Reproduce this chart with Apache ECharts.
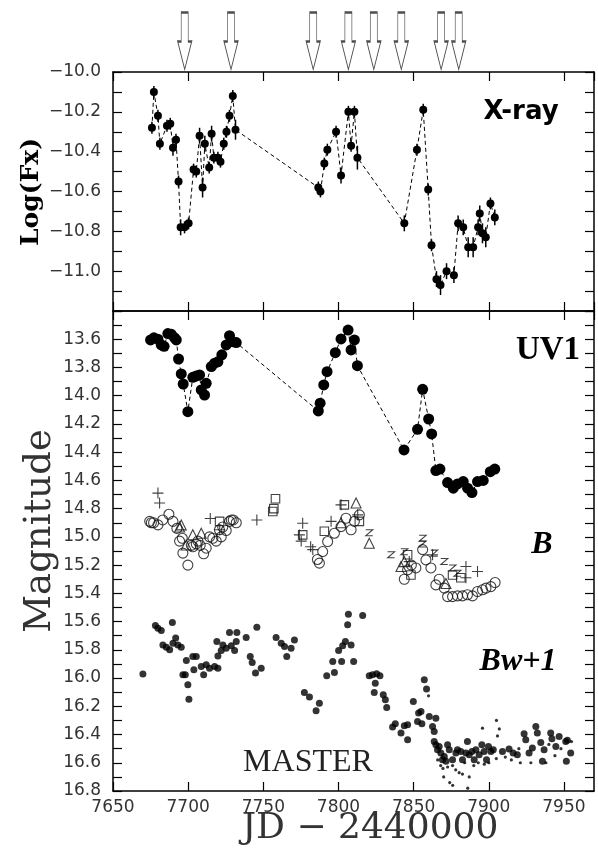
<!DOCTYPE html>
<html>
<head>
<meta charset="utf-8">
<script src="https://cdn.jsdelivr.net/npm/echarts@6/dist/echarts.min.js"></script>
<style>
html, body { margin: 0; padding: 0; background: #fff; }
#main { width: 598px; height: 848px; }
</style>
</head>
<body>
<div id="main"></div>
<script>
// JD of the arrows over the top panel
var arrowJD = [7697.7, 7728.5, 7783.2, 7806.6, 7823.5, 7841.8, 7868.3, 7880];

// X-ray: log flux with error bars
var xrayJD = [7675.9, 7677.2, 7679.9, 7681.2, 7685.9, 7688.1, 7689.9, 7691.9, 7693.6, 7695.0, 7697.6, 7700.3,
    7703.6, 7705.4, 7707.6, 7709.6, 7711.1, 7714.0, 7715.6, 7717.1, 7719.8, 7721.5, 7723.7, 7725.5, 7727.5,
    7729.7, 7731.5, 7786.6, 7788.0, 7790.6, 7792.6, 7798.4, 7801.7, 7806.6, 7808.4, 7810.6, 7812.6, 7843.8,
    7852.2, 7856.4, 7859.7, 7861.9, 7865.2, 7867.9, 7871.9, 7876.8, 7879.6, 7883.0, 7886.3, 7889.6, 7892.9,
    7894.0, 7895.8, 7898.0, 7901.1, 7904.0];
var xrayFlux = [-10.28, -10.10, -10.22, -10.36, -10.27, -10.26, -10.38, -10.34, -10.55, -10.78, -10.78, -10.76,
    -10.49, -10.50, -10.32, -10.58, -10.36, -10.48, -10.31, -10.43, -10.43, -10.45, -10.36, -10.30, -10.22,
    -10.12, -10.29, -10.58, -10.60, -10.46, -10.39, -10.30, -10.52, -10.20, -10.37, -10.20, -10.43, -10.76,
    -10.39, -10.19, -10.59, -10.87, -11.04, -11.07, -11.00, -11.02, -10.76, -10.78, -10.88, -10.88, -10.78,
    -10.71, -10.81, -10.83, -10.66, -10.73];
var xrayErr = [0.03, 0.03, 0.03, 0.03, 0.03, 0.03, 0.04, 0.03, 0.03, 0.04, 0.03, 0.03,
    0.03, 0.03, 0.04, 0.05, 0.04, 0.03, 0.04, 0.03, 0.03, 0.03, 0.03, 0.03, 0.03,
    0.03, 0.05, 0.03, 0.03, 0.03, 0.03, 0.03, 0.04, 0.03, 0.03, 0.03, 0.06, 0.04,
    0.03, 0.03, 0.03, 0.03, 0.04, 0.05, 0.04, 0.04, 0.04, 0.04, 0.05, 0.05, 0.04,
    0.04, 0.05, 0.05, 0.03, 0.04];

// UV1 magnitudes
var uvJD = [7675.0, 7677.2, 7679.9, 7682.1, 7684.0, 7686.5, 7688.8, 7691.0, 7692.1, 7693.6, 7695.4, 7696.7,
    7699.8, 7703.1, 7705.4, 7707.6, 7708.7, 7710.9, 7712.0, 7715.4, 7717.6, 7719.8, 7722.4, 7725.3, 7727.5,
    7729.7, 7732.0, 7786.6, 7787.8, 7790.2, 7792.4, 7797.9, 7801.7, 7806.4, 7808.4, 7810.6, 7812.6, 7843.6,
    7852.6, 7856.0, 7860.0, 7862.0, 7864.8, 7867.5, 7872.6, 7876.4, 7879.2, 7883.0, 7885.9, 7888.8, 7892.5,
    7896.3, 7901.0, 7904.0];
var uvMag = [13.605, 13.59, 13.60, 13.64, 13.65, 13.56, 13.565, 13.59, 13.605, 13.74, 13.846, 13.917,
    14.113, 13.87, 13.86, 13.853, 13.959, 13.995, 13.912, 13.794, 13.77, 13.76, 13.71, 13.64, 13.575,
    13.617, 13.624, 14.108, 14.053, 13.924, 13.83, 13.695, 13.598, 13.535, 13.676, 13.605, 13.787, 14.384,
    14.238, 13.955, 14.165, 14.271, 14.53, 14.52, 14.615, 14.655, 14.625, 14.608, 14.655, 14.686, 14.608,
    14.60, 14.538, 14.52];

// B band, one list per symbol
var bCircle = [[7674.4, 14.89], [7675.5, 14.90], [7677, 14.90], [7679.9, 14.915], [7683.1, 14.88], [7687.2, 14.84],
    [7689.9, 14.89], [7692.5, 14.94], [7694.3, 15.03], [7696.1, 15.01], [7696.5, 15.115], [7699.8, 15.20],
    [7702.1, 15.06], [7703.1, 15.07], [7705.4, 15.05], [7706.5, 15.03], [7708, 15.06], [7710.3, 15.12],
    [7712, 15.08], [7714.2, 15.0], [7716.4, 15.01], [7718.7, 15.03], [7720.8, 14.95], [7722, 15.0],
    [7723, 14.93], [7725.3, 14.955], [7727.5, 14.89], [7728.7, 14.88], [7730, 14.88], [7732, 14.90],
    [7786, 15.16], [7787.3, 15.186], [7789.5, 15.104], [7792.8, 15.033], [7797.3, 14.974], [7801.7, 14.927],
    [7805, 14.868], [7808.4, 14.95], [7810.6, 14.89], [7813.9, 14.844],
    [7843.8, 15.30], [7846, 15.234], [7848.5, 15.20], [7851.5, 15.22], [7856, 15.09], [7858.2, 15.163],
    [7861.5, 15.22], [7864.8, 15.34], [7867, 15.30], [7870.4, 15.363], [7872.6, 15.423], [7875.9, 15.423],
    [7879.2, 15.418], [7882.5, 15.418], [7885.8, 15.41], [7889.2, 15.418], [7892.5, 15.387], [7895.8, 15.375],
    [7898.1, 15.363], [7901.4, 15.352], [7904.2, 15.323]];
var bPlus = [[7679.9, 14.69], [7681, 14.76], [7714.7, 14.87], [7721, 14.95], [7745.7, 14.88], [7774, 14.986],
    [7775.2, 15.03], [7776.2, 14.903], [7781.5, 15.07], [7782.9, 15.09], [7795.1, 14.89], [7801.7, 14.773],
    [7812.8, 14.844], [7847.1, 15.175], [7862.6, 15.127], [7884.8, 15.21], [7892.5, 15.245], [7884.8, 15.29]];
var bSquare = [[7720.9, 14.89], [7756.3, 14.82], [7757, 14.80], [7758.1, 14.73], [7776.2, 14.986], [7790.6, 14.96],
    [7803.9, 14.773], [7813.9, 14.89], [7846, 15.127], [7848.2, 15.27], [7875.9, 15.27], [7881.4, 15.29]];
var bTriangle = [[7694.3, 14.93], [7695.4, 14.915], [7698.7, 15.057], [7703.1, 14.985], [7708.7, 14.974],
    [7801.7, 14.90], [7811.7, 14.76], [7820.5, 15.045], [7841.6, 15.21], [7843.8, 15.175], [7871.5, 15.33]];
var bZ = [[7820.5, 14.97], [7835, 15.127], [7843.8, 15.105], [7856, 15.01], [7856, 15.05], [7863.7, 15.115],
    [7870.4, 15.175], [7875.9, 15.22], [7879.2, 15.257]];

// MASTER Bw+1, large and small dots
var bwBig = [[7669.9, 15.972], [7678.2, 15.628], [7679.9, 15.647], [7682.1, 15.663], [7683.2, 15.765], [7685.5, 15.781],
    [7687.7, 15.80], [7689.5, 15.607], [7689.9, 15.753], [7691.7, 15.717], [7693.2, 15.765], [7695.4, 15.781],
    [7696.5, 15.977], [7698.1, 15.977], [7698.8, 15.876], [7699.8, 16.048], [7700.5, 16.15], [7703.1, 15.847],
    [7705.4, 15.847], [7703.8, 15.942], [7708.7, 15.918], [7710.3, 15.977], [7712, 15.906], [7714.2, 15.93],
    [7717.6, 15.918], [7719.8, 15.93], [7719.1, 15.741], [7719.8, 15.843], [7722, 15.805], [7723.1, 15.765],
    [7725.3, 15.788], [7727.5, 15.678], [7728.7, 15.772], [7730.9, 15.805], [7732.4, 15.678], [7732, 15.741],
    [7738.6, 15.713], [7741.3, 15.847], [7742.6, 15.89], [7744.8, 15.965], [7745.7, 15.64], [7748.6, 15.93],
    [7758.5, 15.713], [7761.9, 15.753], [7764.1, 15.776], [7765.6, 15.847], [7768.5, 15.788], [7770.7, 15.73],
    [7777.3, 16.102], [7780.7, 16.135], [7787.3, 16.178], [7785.1, 16.232], [7792.2, 15.984], [7797.3, 15.961],
    [7796.2, 15.883], [7802.1, 15.883], [7800.1, 15.805], [7802.8, 15.772], [7804.6, 15.741], [7808.4, 15.765],
    [7806.1, 15.623], [7806.6, 15.548], [7816.1, 15.557], [7810.1, 15.883], [7820.5, 15.984], [7822.7, 15.977],
    [7825.4, 15.97], [7827.6, 15.984], [7824.5, 16.036], [7823.8, 16.102], [7829.8, 16.119], [7831.2, 16.154],
    [7832.1, 16.208], [7836, 16.347], [7837.8, 16.324], [7841.6, 16.39], [7843.8, 16.338], [7846, 16.331],
    [7846, 16.437], [7849.8, 16.166], [7853.3, 16.248], [7854.9, 16.237], [7852.6, 16.308], [7855.5, 16.324],
    [7857.1, 16.012], [7858.6, 16.078], [7860.4, 16.272], [7862.6, 16.343], [7863.7, 16.378], [7864.8, 16.284],
    [7863.7, 16.449], [7864.8, 16.473], [7865.9, 16.508], [7867, 16.485], [7868.1, 16.531], [7869.2, 16.579],
    [7870.4, 16.555], [7871.5, 16.59], [7872.6, 16.473], [7873.7, 16.508], [7875.9, 16.579], [7878.1, 16.531],
    [7879.2, 16.508], [7881.4, 16.52], [7882.5, 16.579], [7884.8, 16.531], [7885.8, 16.449], [7887, 16.543],
    [7888.8, 16.52], [7890.3, 16.579], [7891.4, 16.508], [7893.6, 16.543], [7895.4, 16.473], [7896.9, 16.52],
    [7898.5, 16.579], [7899.8, 16.485], [7901.4, 16.52], [7903, 16.508], [7909.1, 16.52], [7913.5, 16.503],
    [7916.2, 16.531], [7919, 16.543], [7923.5, 16.395], [7924.6, 16.437], [7926.8, 16.531], [7929, 16.496],
    [7931.3, 16.343], [7932.3, 16.39], [7934.6, 16.457], [7935.7, 16.59], [7936.8, 16.508], [7941.2, 16.39],
    [7942, 16.43], [7944.6, 16.485], [7946.8, 16.414], [7951.2, 16.449], [7951.6, 16.59], [7952.3, 16.44],
    [7954.5, 16.531]];
var bwSmall = [[7859.9, 16.126], [7895.8, 16.355], [7905.1, 16.30], [7907, 16.36], [7905.8, 16.41], [7868, 16.62],
    [7869.5, 16.64], [7872.6, 16.63], [7875.9, 16.62], [7878, 16.65], [7880.3, 16.67], [7882.5, 16.68],
    [7887, 16.70], [7884, 16.60], [7890, 16.62], [7893, 16.60], [7897, 16.61], [7866, 16.58], [7870, 16.70],
    [7874, 16.74], [7876, 16.76], [7886, 16.78], [7911, 16.56], [7915, 16.58], [7921, 16.60], [7928, 16.60],
    [7938, 16.60], [7944, 16.55], [7948, 16.50], [7955, 16.45], [7940, 16.47], [7920, 16.50], [7900, 16.60],
    [7905, 16.57]];

var jdMin = 7650, jdMax = 7970, jdStep = 50;

function pairs(xs, ys) {
    var out = [];
    for (var i = 0; i < xs.length; i++) out.push([xs[i], ys[i]]);
    return out;
}

var labelFont = { color: '#333', fontFamily: 'DejaVu Sans', fontSize: 17 };
var black = '#000';

function xAx(grid, pos, labels) {
    return {
        type: 'value', gridIndex: grid, position: pos, min: jdMin, max: jdMax, interval: jdStep,
        axisLine: { show: true, onZero: false, lineStyle: { color: black, width: 1.5 } },
        axisTick: { show: true, inside: true, length: 9, lineStyle: { color: black, width: 1.2 } },
        axisLabel: Object.assign({
            show: labels, margin: 8, showMaxLabel: false,
            formatter: function (v) { return String(v); }
        }, labelFont),
        splitLine: { show: false }
    };
}

function yAx(grid, pos, min, max, inverse, labels) {
    return {
        type: 'value', gridIndex: grid, position: pos, min: min, max: max, interval: 0.2, inverse: inverse,
        axisLine: { show: true, onZero: false, lineStyle: { color: black, width: 1.5 } },
        axisTick: { show: true, inside: true, length: 9, lineStyle: { color: black, width: 1.2 } },
        minorTick: { show: true, splitNumber: 2, length: 9, lineStyle: { color: black, width: 1.2 } },
        axisLabel: Object.assign({
            show: labels, margin: 12, showMinLabel: false, showMaxLabel: true,
            formatter: function (v) { return v.toFixed(1).replace('-', '\u2212'); }
        }, labelFont),
        splitLine: { show: false }
    };
}

var arrowPath = 'path://M3.5,0 L10.5,0 L10.5,29 L14,29 L7,57 L0,29 L3.5,29 Z';
var plusPath = 'path://M5,0 L5,10 M0,5 L10,5';
var zPath = 'path://M0,0 L10,0 L0,10 L10,10';
var openStyle = { color: 'transparent', borderColor: '#111', borderWidth: 1.1 };

var myChart = echarts.init(document.getElementById('main'), null, { renderer: 'canvas' });

var option = {
    animation: false,
    backgroundColor: '#fff',
    grid: [
        { left: 113, right: 4, top: 72, height: 239, outerBoundsMode: 'none' },
        { left: 113, right: 4, top: 311, height: 480, outerBoundsMode: 'none' },
        { left: 113, right: 4, top: 12, height: 58, outerBoundsMode: 'none' }
    ],
    xAxis: [
        xAx(0, 'bottom', false),
        xAx(0, 'top', false),
        xAx(1, 'bottom', true),
        xAx(1, 'top', false),
        { type: 'value', gridIndex: 2, min: jdMin, max: jdMax, show: false }
    ],
    yAxis: [
        yAx(0, 'left', -11.2, -10, false, true),
        yAx(0, 'right', -11.2, -10, false, false),
        yAx(1, 'left', 13.4, 16.8, true, true),
        yAx(1, 'right', 13.4, 16.8, true, false),
        { type: 'value', gridIndex: 2, min: 0, max: 1, show: false }
    ],
    graphic: [
        { type: 'text', x: 521, y: 112, style: { text: 'X-ray', font: 'bold 26px "DejaVu Sans"', fill: black, textAlign: 'center', textVerticalAlign: 'middle' } },
        { type: 'text', x: 548, y: 350, style: { text: 'UV1', font: 'bold 33px "Liberation Serif"', fill: black, textAlign: 'center', textVerticalAlign: 'middle' } },
        { type: 'text', x: 542, y: 545, style: { text: 'B', font: 'italic bold 32px "Liberation Serif"', fill: black, textAlign: 'center', textVerticalAlign: 'middle' } },
        { type: 'text', x: 518, y: 662, style: { text: 'Bw+1', font: 'italic bold 32px "Liberation Serif"', fill: black, textAlign: 'center', textVerticalAlign: 'middle' } },
        { type: 'text', x: 308, y: 763, style: { text: 'MASTER', font: '32px "Liberation Serif"', fill: '#222', textAlign: 'center', textVerticalAlign: 'middle' } },
        { type: 'text', x: 31, y: 192, rotation: Math.PI / 2, style: { text: 'Log(Fx)', font: 'bold 25px "DejaVu Serif"', fill: black, textAlign: 'center', textVerticalAlign: 'middle' } },
        { type: 'text', x: 40, y: 531, rotation: Math.PI / 2, style: { text: 'Magnitude', font: '37px "DejaVu Serif"', fill: '#333', textAlign: 'center', textVerticalAlign: 'middle' } },
        { type: 'text', x: 370, y: 829, style: { text: 'JD \u2212 2440000', font: '36px "DejaVu Serif"', fill: '#333', textAlign: 'center', textVerticalAlign: 'middle' } }
    ],
    series: [
        {
            name: 'arrows', type: 'scatter', xAxisIndex: 4, yAxisIndex: 4,
            data: arrowJD.map(function (d) { return [d, 0.5]; }),
            symbol: arrowPath, symbolSize: [14, 57],
            itemStyle: { color: '#fff', borderColor: '#222', borderWidth: 1.3 }
        },
        {
            name: 'xray err', type: 'custom', xAxisIndex: 0, yAxisIndex: 0,
            data: xrayJD.map(function (d, i) { return [d, xrayFlux[i], xrayErr[i]]; }),
            renderItem: function (params, api) {
                var p1 = api.coord([api.value(0), api.value(1) + api.value(2)]);
                var p2 = api.coord([api.value(0), api.value(1) - api.value(2)]);
                return { type: 'line', shape: { x1: p1[0], y1: p1[1], x2: p2[0], y2: p2[1] }, style: { stroke: black, lineWidth: 1.5 } };
            },
            z: 1
        },
        {
            name: 'X-ray', type: 'line', xAxisIndex: 0, yAxisIndex: 0,
            data: pairs(xrayJD, xrayFlux),
            symbol: 'circle', symbolSize: 8, showSymbol: true,
            itemStyle: { color: black },
            lineStyle: { color: black, width: 1, type: [4, 3] },
            z: 3
        },
        {
            name: 'UV1', type: 'line', xAxisIndex: 2, yAxisIndex: 2,
            data: pairs(uvJD, uvMag),
            symbol: 'circle', symbolSize: 11, showSymbol: true,
            itemStyle: { color: black },
            lineStyle: { color: black, width: 1, type: [4, 3] }
        },
        { name: 'B o', type: 'scatter', xAxisIndex: 2, yAxisIndex: 2, data: bCircle, symbol: 'circle', symbolSize: 10, itemStyle: openStyle },
        { name: 'B +', type: 'scatter', xAxisIndex: 2, yAxisIndex: 2, data: bPlus, symbol: plusPath, symbolSize: 11, itemStyle: openStyle },
        { name: 'B sq', type: 'scatter', xAxisIndex: 2, yAxisIndex: 2, data: bSquare, symbol: 'rect', symbolSize: 8.5, itemStyle: openStyle },
        { name: 'B tri', type: 'scatter', xAxisIndex: 2, yAxisIndex: 2, data: bTriangle, symbol: 'triangle', symbolSize: 10, itemStyle: openStyle },
        { name: 'B z', type: 'scatter', xAxisIndex: 2, yAxisIndex: 2, data: bZ, symbol: zPath, symbolSize: [7, 6], itemStyle: openStyle },
        { name: 'Bw big', type: 'scatter', xAxisIndex: 2, yAxisIndex: 2, data: bwBig, symbol: 'circle', symbolSize: 7, itemStyle: { color: black } },
        { name: 'Bw small', type: 'scatter', xAxisIndex: 2, yAxisIndex: 2, data: bwSmall, symbol: 'circle', symbolSize: 3.2, itemStyle: { color: black } }
    ]
};

myChart.setOption(option);
</script>
</body>
</html>
